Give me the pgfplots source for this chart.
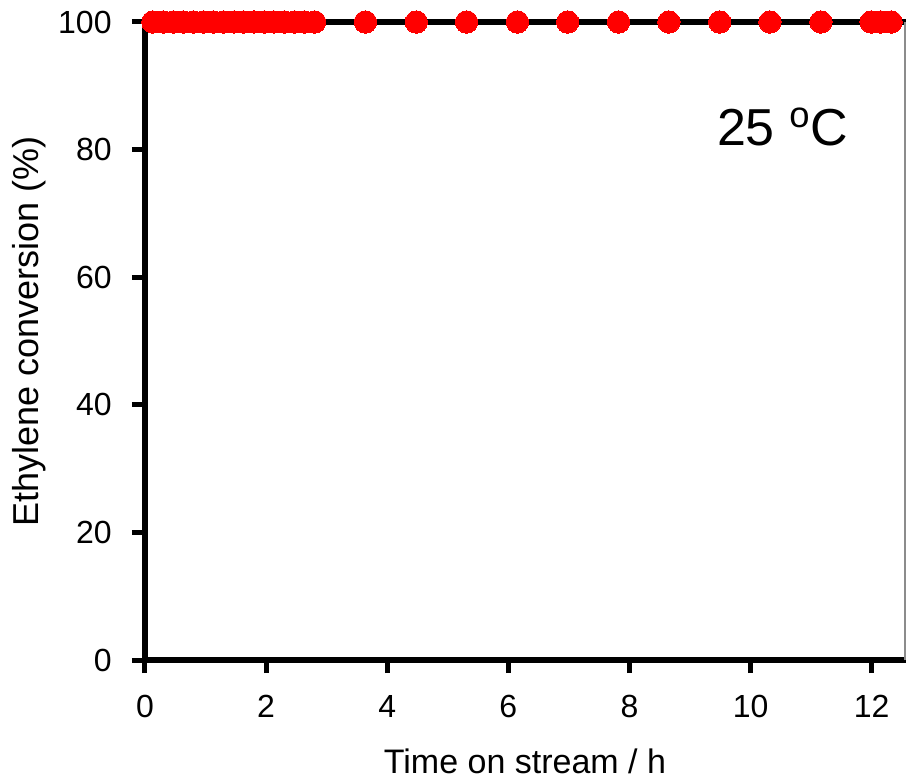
\documentclass[border=0pt]{standalone}
\usepackage{fontspec}
\setmainfont{Liberation Sans}
\usepackage{pgfplots}
\pgfplotsset{compat=1.18}
\definecolor{ptred}{RGB}{255,0,0}

\begin{document}
\begin{tikzpicture}
\begin{axis}[
    scale only axis,
    width=380bp, height=319bp,
    xmin=0, xmax=12.55,
    ymin=0, ymax=100,
    xtick={0,2,...,12},
    ytick={0,20,...,100},
    axis x line*=bottom,
    axis y line*=left,
    axis line style={-, line width=3bp, line cap=rect},
    tick align=outside,
    major tick length=6.5bp,
    tick style={line width=2.5bp, black},
    /pgf/number format/assume math mode=true,
    ticklabel style={font=\fontsize{16bp}{18bp}\selectfont, inner sep=0pt},
    yticklabel style={anchor=east, xshift=-10bp},
    xticklabel style={anchor=north, yshift=-11bp},
    xlabel={Time on stream / h},
    ylabel={Ethylene conversion (\%)},
    xlabel style={font=\fontsize{17bp}{20bp}\selectfont, at={(axis description cs:0.5,0)}, anchor=base, yshift=-56.5bp, inner sep=0pt},
    ylabel style={font=\fontsize{18bp}{21bp}\selectfont, at={(axis description cs:0,0.515)}, anchor=base, yshift=53bp, inner sep=0pt},
    clip=false,
]
\draw[black, line width=3.3bp, line cap=rect] (rel axis cs:0,1) -- (rel axis cs:1,1);
\draw[black!45, line width=0.6bp] (rel axis cs:1,0) -- (rel axis cs:1,1);
\addplot[only marks, mark=*, mark size=5.6bp, mark options={fill=ptred, draw=ptred, line width=0pt}] coordinates {
    (0.13,100) (0.30,100) (0.47,100) (0.63,100) (0.80,100) (0.97,100)
    (1.13,100) (1.30,100) (1.47,100) (1.63,100) (1.80,100) (1.97,100)
    (2.13,100) (2.30,100) (2.47,100) (2.63,100) (2.80,100)
    (3.64,100) (4.48,100) (5.31,100) (6.15,100) (6.98,100) (7.82,100)
    (8.65,100) (9.49,100) (10.32,100) (11.16,100) (11.99,100)
    (12.15,100) (12.32,100)
};
\node[anchor=west, inner sep=0pt, font=\fontsize{26bp}{30bp}\selectfont] at (axis cs:9.44,83.5) {25 \textsuperscript{o}C};
\end{axis}
\pgfresetboundingbox
\path[use as bounding box] (-72.5bp,-61bp) rectangle (380.5bp,330bp);
\end{tikzpicture}
\end{document}
